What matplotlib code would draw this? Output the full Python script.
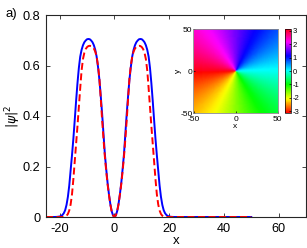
import numpy as np
import matplotlib
matplotlib.use('Agg')
import matplotlib.pyplot as plt

plt.rcParams['font.family'] = ['Liberation Sans', 'DejaVu Sans']
plt.rcParams['mathtext.fontset'] = 'dejavusans'
plt.rcParams['axes.unicode_minus'] = False

# sample positions (x >= 0, half profile, both curves symmetric about 0)
x_half = [0, 0.5, 1, 1.5, 2, 2.5, 3, 3.5, 4, 4.5, 5, 5.5, 6, 6.5, 7, 7.5, 8, 8.5,
          9, 9.5, 10, 10.5, 11, 11.5, 12, 12.5, 13, 13.5, 14, 14.5, 15, 15.5, 16,
          16.5, 17, 17.5, 18, 18.5, 19, 19.5, 20, 21, 22, 25]
blue_half = [0, 0.006, 0.023, 0.052, 0.09, 0.135, 0.19, 0.25, 0.33, 0.41, 0.48,
             0.545, 0.595, 0.635, 0.662, 0.68, 0.692, 0.699, 0.704, 0.705, 0.704,
             0.699, 0.692, 0.68, 0.662, 0.635, 0.59, 0.53, 0.46, 0.384, 0.31,
             0.245, 0.185, 0.125, 0.08, 0.048, 0.027, 0.015, 0.008, 0.004, 0.002,
             0.0005, 0, 0]
red_half = [0, 0.006, 0.022, 0.05, 0.088, 0.13, 0.182, 0.24, 0.31, 0.385, 0.47,
            0.55, 0.60, 0.635, 0.655, 0.667, 0.674, 0.677, 0.678, 0.677, 0.673,
            0.665, 0.65, 0.625, 0.58, 0.51, 0.435, 0.36, 0.29, 0.22, 0.15, 0.09,
            0.05, 0.026, 0.012, 0.005, 0.002, 0.001, 0, 0, 0, 0, 0, 0]
x_tail = [50]

x = [-v for v in x_half[::-1]] + x_half[1:] + x_tail
blue = blue_half[::-1] + blue_half[1:] + [0]
red = red_half[::-1] + red_half[1:] + [0]

# inset: phase of a single vortex
grid = np.linspace(-50, 50, 101)
X, Y = np.meshgrid(grid, grid)
phase = np.angle(X + 1j * Y)

fig = plt.figure(figsize=(3.07, 2.48), dpi=100)
ax = fig.add_axes([46 / 307, 1 - 217 / 248, 260 / 307, 202 / 248])
ax.plot(x, blue, color='#0000ff', lw=1.4)
ax.plot(x, red, color='#ff0000', lw=1.4, dashes=(3.6, 1.8))
ax.set_xlim(-25, 70)
ax.set_ylim(0, 0.8)
ax.set_xticks([-20, 0, 20, 40, 60])
ax.set_yticks([0, 0.2, 0.4, 0.6, 0.8])
ax.set_yticklabels(['0', '0.2', '0.4', '0.6', '0.8'])
ax.tick_params(direction='in', top=True, right=True, labelsize=9.2,
               length=3, width=0.6, color='#262626', pad=4)
for s in ax.spines.values():
    s.set_linewidth(0.8)
    s.set_color('#262626')
ax.set_xlabel('x', fontsize=9.5, labelpad=0)
ax.set_ylabel(r'$|\psi|^2$', fontsize=9, labelpad=0)
fig.text(5 / 307, 1 - 17 / 248, 'a)', fontsize=9.5)

axi = fig.add_axes([193 / 307, 1 - 113 / 248, 85 / 307, 84 / 248])
im = axi.imshow(phase, cmap='hsv', vmin=-np.pi, vmax=np.pi, origin='lower',
                extent=[-50, 50, -50, 50], interpolation='bilinear')
axi.set_xticks([-50, 0, 50])
axi.set_yticks([-50, 0, 50])
axi.tick_params(labelsize=6, length=1.5, width=0.5, pad=0.8, direction='in')
axi.tick_params(axis='x', pad=2)
axi.set_xlabel('x', fontsize=6, labelpad=0)
axi.set_ylabel('y', fontsize=6, labelpad=-1)
for s in axi.spines.values():
    s.set_linewidth(0.6)
    s.set_color('#888888')

cax = fig.add_axes([285 / 307, 1 - 113 / 248, 6 / 307, 84 / 248])
cb = fig.colorbar(im, cax=cax, ticks=[-3, -2, -1, 0, 1, 2, 3])
cb.ax.tick_params(labelsize=5.5, length=1.5, width=0.5, pad=1, direction='in')
cb.outline.set_linewidth(0.5)

fig.savefig('out.png', dpi=100)
